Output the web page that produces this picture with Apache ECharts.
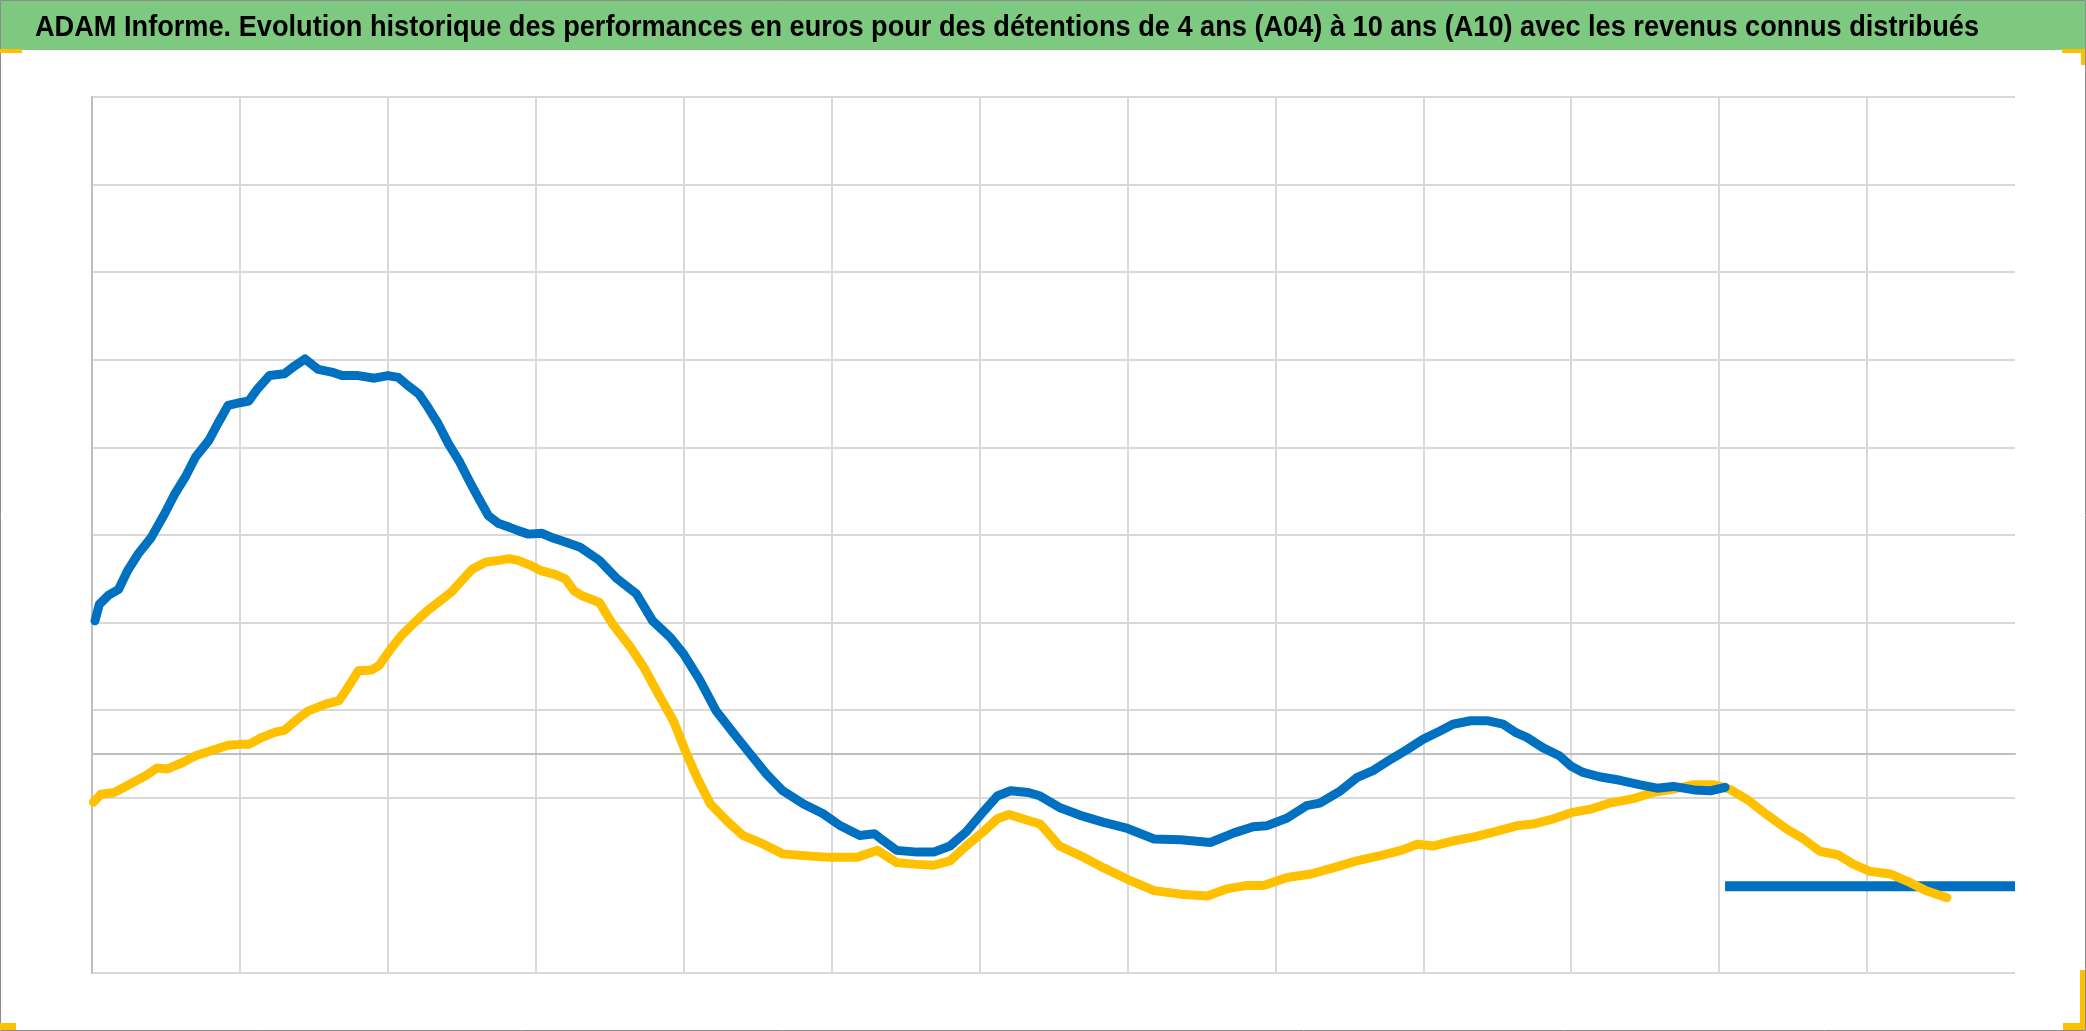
<!DOCTYPE html>
<html>
<head>
<meta charset="utf-8">
<script src="https://cdn.jsdelivr.net/npm/echarts@6/dist/echarts.min.js"></script>
<style>
html,body{margin:0;padding:0;background:#fff;}
#chart{width:2086px;height:1031px;}
</style>
</head>
<body>
<div id="chart"></div>
<script>
const titleText = "ADAM Informe. Evolution historique des performances en euros pour des détentions de 4 ans (A04) à 10 ans (A10) avec les revenus connus distribués";

// Blue series (A04) – x in years from start, y in grid units
const blueX = [0.02,0.05,0.11,0.18,0.24,0.31,0.40,0.49,0.56,0.63,0.70,0.79,0.85,0.92,1.00,1.06,1.12,1.20,1.30,1.37,1.44,1.53,1.62,1.69,1.80,1.91,2.00,2.07,2.14,2.21,2.27,2.34,2.41,2.48,2.55,2.61,2.68,2.75,2.82,2.88,2.95,3.04,3.11,3.20,3.30,3.43,3.55,3.68,3.79,3.91,4.00,4.11,4.22,4.34,4.45,4.56,4.67,4.81,4.94,5.06,5.19,5.29,5.35,5.44,5.58,5.69,5.80,5.91,6.03,6.12,6.21,6.33,6.41,6.54,6.68,6.84,7.00,7.18,7.36,7.56,7.72,7.85,7.94,8.08,8.21,8.30,8.44,8.55,8.66,8.78,8.89,9.00,9.11,9.20,9.32,9.43,9.54,9.63,9.70,9.81,9.92,10.00,10.08,10.19,10.33,10.46,10.58,10.69,10.83,10.94,11.04];
const blueY = [1.52,1.71,1.81,1.88,2.09,2.28,2.47,2.74,2.97,3.16,3.39,3.58,3.77,3.98,4.01,4.03,4.17,4.32,4.34,4.43,4.51,4.39,4.36,4.32,4.32,4.29,4.32,4.30,4.20,4.11,3.96,3.77,3.54,3.35,3.12,2.93,2.72,2.63,2.59,2.55,2.51,2.52,2.47,2.42,2.36,2.21,2.00,1.83,1.52,1.33,1.14,0.84,0.49,0.23,0.00,-0.23,-0.42,-0.57,-0.68,-0.82,-0.93,-0.91,-0.99,-1.10,-1.12,-1.12,-1.05,-0.89,-0.65,-0.48,-0.42,-0.44,-0.48,-0.61,-0.70,-0.78,-0.85,-0.97,-0.98,-1.01,-0.90,-0.83,-0.82,-0.73,-0.59,-0.56,-0.42,-0.27,-0.19,-0.06,0.05,0.17,0.26,0.34,0.38,0.38,0.34,0.24,0.19,0.07,-0.02,-0.14,-0.21,-0.26,-0.30,-0.35,-0.39,-0.37,-0.41,-0.42,-0.38];

// Blue flat tail
const blueTailX = [11.04, 13.0];
const blueTailY = [-1.51, -1.51];

// Yellow series (A10)
const yellowX = [0.01,0.06,0.15,0.24,0.36,0.44,0.51,0.61,0.70,0.81,0.92,1.00,1.06,1.15,1.24,1.30,1.39,1.46,1.58,1.67,1.73,1.80,1.89,1.94,2.02,2.09,2.18,2.27,2.34,2.43,2.50,2.57,2.66,2.75,2.82,2.88,2.97,3.04,3.13,3.20,3.26,3.31,3.43,3.52,3.64,3.73,3.84,3.93,4.01,4.09,4.18,4.29,4.40,4.54,4.67,4.81,4.99,5.17,5.31,5.44,5.58,5.69,5.80,5.91,6.03,6.12,6.20,6.33,6.41,6.54,6.68,6.84,7.00,7.18,7.36,7.54,7.67,7.81,7.92,8.08,8.24,8.39,8.55,8.71,8.85,8.96,9.07,9.21,9.36,9.50,9.63,9.74,9.86,10.00,10.13,10.26,10.42,10.55,10.69,10.83,10.96,11.07,11.19,11.32,11.46,11.57,11.68,11.80,11.91,12.02,12.16,12.27,12.40,12.54];
const yellowY = [-0.55,-0.46,-0.44,-0.36,-0.25,-0.16,-0.17,-0.10,-0.02,0.04,0.10,0.11,0.11,0.19,0.25,0.27,0.40,0.49,0.57,0.61,0.76,0.95,0.96,1.01,1.20,1.35,1.50,1.64,1.73,1.85,1.98,2.11,2.19,2.21,2.23,2.21,2.15,2.09,2.05,2.00,1.86,1.81,1.73,1.48,1.22,0.99,0.65,0.38,0.04,-0.27,-0.57,-0.76,-0.93,-1.03,-1.14,-1.16,-1.18,-1.18,-1.10,-1.24,-1.26,-1.27,-1.22,-1.05,-0.88,-0.74,-0.69,-0.76,-0.80,-1.05,-1.16,-1.30,-1.43,-1.56,-1.60,-1.62,-1.54,-1.50,-1.50,-1.41,-1.37,-1.30,-1.22,-1.16,-1.10,-1.03,-1.05,-0.99,-0.94,-0.88,-0.82,-0.80,-0.75,-0.67,-0.63,-0.56,-0.51,-0.44,-0.40,-0.35,-0.35,-0.40,-0.52,-0.69,-0.86,-0.97,-1.11,-1.15,-1.26,-1.34,-1.37,-1.45,-1.56,-1.64];

const zip = (xs, ys) => xs.map((x, i) => [x, ys[i]]);

// Horizontal grid lines: ticks every 0.5 from -2.5; only some are drawn
const gridGray = '#d9d9d9';
const none = 'rgba(0,0,0,0)';
const splitColors = [];
for (let k = 0; k <= 20; k++) {
  const v = -2.5 + 0.5 * k;
  const visible = (v === -2.5) || (v >= -0.5 && Math.abs((v * 2) % 2) === 1);
  splitColors.push(visible ? gridGray : none);
}

// Title font: condensed to match the original (Calibri-like) width
const titleFont = 'bold 30px "Liberation Sans", Arial, sans-serif';
const titleTargetWidth = 1944;
const mctx = document.createElement('canvas').getContext('2d');
mctx.font = titleFont;
const titleScale = titleTargetWidth / mctx.measureText(titleText).width;

const chart = echarts.init(document.getElementById('chart'), null, {renderer: 'canvas'});
const lineW = 9;
chart.setOption({
  backgroundColor: '#ffffff',
  animation: false,
  grid: {left: 92, right: 71, top: 97, bottom: 58, containLabel: false},
  xAxis: {
    type: 'value', min: 0, max: 13, interval: 1,
    axisLabel: {show: false}, axisTick: {show: false},
    axisLine: {show: true, onZero: true, lineStyle: {color: '#bfbfbf', width: 2}},
    splitLine: {show: true, showMinLine: false, showMaxLine: false, lineStyle: {color: gridGray, width: 2}}
  },
  yAxis: {
    type: 'value', min: -2.5, max: 7.5, interval: 0.5,
    axisLabel: {show: false}, axisTick: {show: false},
    axisLine: {show: true, onZero: false, lineStyle: {color: '#bfbfbf', width: 2}},
    splitLine: {show: true, lineStyle: {color: splitColors, width: 2}}
  },
  series: [
    {type: 'line', name: 'A04 fin', data: zip(blueTailX, blueTailY), symbol: 'none',
     lineStyle: {color: '#0070C0', width: 10}, z: 2},
    {type: 'line', name: 'A10', data: zip(yellowX, yellowY), symbol: 'none',
     lineStyle: {color: '#FFC000', width: lineW, join: 'round', cap: 'round'}, z: 3},
    {type: 'line', name: 'A04', data: zip(blueX, blueY), symbol: 'none',
     lineStyle: {color: '#0070C0', width: lineW, join: 'round', cap: 'round'}, z: 4}
  ],
  graphic: [
    {type: 'rect', shape: {x: 0, y: 0, width: 2085, height: 50}, style: {fill: '#7dc97f'}, z: 1},
    {type: 'text', x: 35, y: 28, scaleX: titleScale, scaleY: 1,
     style: {text: titleText, fill: '#000', font: titleFont, verticalAlign: 'middle', align: 'left'}, z: 5},
    {type: 'rect', shape: {x: 0.5, y: 0.5, width: 2085, height: 1030}, style: {fill: 'none', stroke: '#8c8c8c', lineWidth: 1}, z: 6},
    {type: 'rect', shape: {x: 0, y: 49, width: 22, height: 4}, style: {fill: '#FFC000'}, z: 7},
    {type: 'rect', shape: {x: 2062, y: 49, width: 23, height: 4}, style: {fill: '#FFC000'}, z: 7},
    {type: 'rect', shape: {x: 2081, y: 49, width: 4, height: 16}, style: {fill: '#FFC000'}, z: 7},
    {type: 'rect', shape: {x: 0, y: 1023, width: 16, height: 7}, style: {fill: '#FFC000'}, z: 7},
    {type: 'rect', shape: {x: 2063, y: 1023, width: 22, height: 7}, style: {fill: '#FFC000'}, z: 7},
    {type: 'rect', shape: {x: 2080, y: 970, width: 5, height: 60}, style: {fill: '#FFC000'}, z: 7}
  ]
});
</script>
</body>
</html>
